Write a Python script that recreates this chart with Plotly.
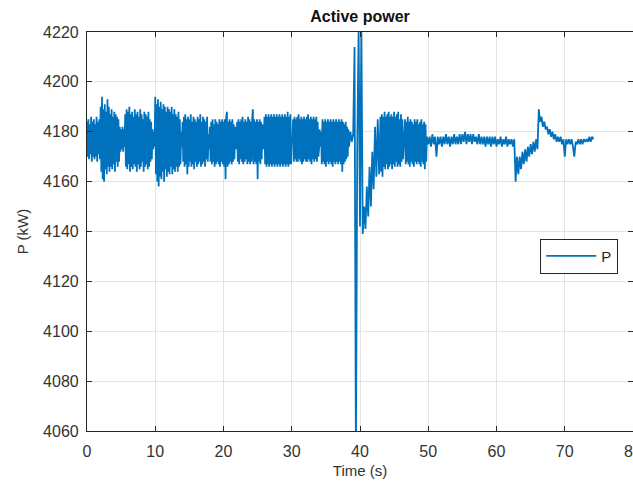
import numpy as np
import plotly.graph_objects as go

# ---- active power P (kW) ----
# oscillating part, sampled every 0.1 s from t = 0 s
dt_a, start_a = 0.1, 0.0
noisy_a = (
    [4184, 4170, 4185, 4169, 4183, 4171, 4186, 4168, 4184, 4170, 4185, 4169, 4183, 4170, 4186, 4168, 4184, 4171, 4185, 4169]
    + [4190, 4164, 4194, 4161, 4189, 4160, 4191, 4165, 4188, 4163, 4193, 4166, 4190, 4164, 4187, 4166, 4189, 4165, 4186, 4167,
       4188, 4164, 4187, 4168, 4186, 4166, 4185, 4168]
    + [4182, 4172, 4181, 4173, 4182, 4172, 4181, 4174]
    + [4187, 4166, 4189, 4165, 4188, 4167, 4190, 4164, 4187, 4166, 4188, 4165, 4186, 4167, 4189, 4166, 4187, 4164, 4188, 4167,
       4186, 4165, 4189, 4166, 4187, 4168, 4185, 4164, 4188, 4166, 4187, 4167, 4186, 4165, 4188, 4166, 4185, 4168, 4184, 4169]
    + [4181, 4173, 4180, 4174]
    + [4194, 4163, 4191, 4160, 4193, 4158, 4190, 4162, 4192, 4161, 4189, 4164, 4191, 4160, 4190, 4165, 4188, 4162, 4190, 4164,
       4189, 4163, 4188, 4166, 4190, 4163, 4187, 4165, 4189, 4164, 4187, 4166, 4186, 4164, 4188, 4166, 4185, 4167]
    + [4180, 4174]
    + [4184, 4168, 4186, 4166, 4187, 4167, 4185, 4163, 4186, 4166, 4185, 4168, 4187, 4166, 4184, 4167, 4186, 4165, 4185, 4168,
       4184, 4166, 4186, 4167, 4185, 4168, 4187, 4166, 4184, 4167, 4186, 4168, 4185, 4166, 4184, 4169, 4186, 4168]
    + [4179, 4173]
    + [4182, 4168, 4184, 4167, 4185, 4168, 4183, 4166, 4185, 4167, 4184, 4168, 4183, 4167, 4185, 4166, 4184, 4168, 4185, 4167,
       4184, 4166, 4185, 4161, 4186, 4188, 4166, 4184, 4167, 4185, 4168, 4184, 4167, 4185, 4168, 4183, 4169, 4182]
    + [4180, 4173]
    + [4184, 4168, 4185, 4167, 4184, 4169, 4185, 4168, 4186, 4167, 4184, 4168, 4185, 4169, 4184, 4167, 4186, 4168, 4185, 4167,
       4184, 4168, 4185, 4189, 4167, 4185, 4168, 4184, 4167, 4185, 4161, 4184, 4168, 4185, 4167, 4184, 4169, 4183]
    + [4180, 4173]
    + [4186, 4167, 4187, 4166, 4186, 4167, 4187, 4166, 4186, 4167, 4187, 4166, 4186, 4167, 4187, 4166, 4186, 4167, 4187, 4166,
       4186, 4167, 4187, 4166, 4186, 4167, 4187, 4166, 4186, 4167, 4187, 4166, 4186, 4167, 4188, 4166, 4186, 4167, 4187, 4167]
    + [4178, 4176]
    + [4185, 4168, 4186, 4169, 4185, 4168, 4186, 4168, 4187, 4169, 4185, 4168, 4186, 4167, 4185, 4168, 4186, 4169, 4185, 4168,
       4186, 4168, 4187, 4169, 4185, 4168, 4186, 4167, 4185, 4169, 4186, 4168, 4185, 4169, 4186, 4168, 4184, 4170]
    + [4173, 4181, 4174, 4180]
    + [4167, 4185, 4168, 4184, 4167, 4185, 4166, 4184, 4168, 4185, 4167, 4184, 4168, 4185, 4167, 4184, 4166, 4185, 4168, 4184,
       4167, 4185, 4168, 4184, 4167, 4185, 4168, 4184, 4167, 4185, 4164, 4184, 4167, 4183, 4168, 4184, 4169, 4182, 4170, 4181]
)

# disturbance around t = 39-40 s, sampled every 0.2 s
dt_spike, start_spike = 0.2, 38.4
spike = [4174, 4180, 4176, 4179, 4214, 4050, 4175, 4221, 4142, 4221, 4139, 4150,
         4141, 4158, 4146, 4166, 4150, 4172, 4157, 4182, 4162, 4185, 4163]

# second oscillating part, every 0.1 s
dt_b, start_b = 0.1, 43.0
noisy_b = (
    [4186, 4164, 4187, 4162, 4186, 4166, 4188, 4165, 4186, 4167, 4187, 4165, 4188, 4166, 4186, 4167, 4187, 4165, 4186, 4167,
     4188, 4166, 4186, 4168, 4187, 4166, 4188, 4167, 4185, 4166, 4187, 4168, 4185, 4169]
    + [4173, 4180]
    + [4185, 4167, 4184, 4168, 4186, 4167, 4184, 4166, 4185, 4168, 4184, 4167, 4183, 4166, 4185, 4168, 4184, 4167, 4185, 4168,
       4183, 4167, 4184, 4166, 4185, 4168, 4183, 4167, 4184, 4165, 4183, 4168]
)

# calm part, every 0.2 s
dt_calm, start_calm = 0.2, 49.8
calm = [4178,
        4175, 4178, 4174, 4179, 4175, 4178, 4170, 4178, 4175, 4178, 4174, 4178, 4175, 4179, 4175, 4178,
        4174, 4178, 4175, 4179, 4175, 4178, 4175, 4179, 4175, 4179, 4176, 4180, 4175, 4179, 4176, 4179,
        4175, 4179, 4176, 4178, 4175, 4179, 4175, 4178, 4175, 4178, 4174, 4178, 4175, 4178, 4174, 4178,
        4175, 4178, 4174, 4177, 4175, 4178, 4174, 4177, 4175, 4178, 4174, 4177, 4175, 4177, 4174, 4177]

# dip, jump and settling, every 0.2 s
dt_tail, start_tail = 0.2, 62.8
tail = [4160, 4170, 4163, 4170, 4165, 4172, 4167, 4173, 4168, 4174, 4170, 4175, 4171, 4176, 4172, 4177,
        4173, 4189, 4184, 4186, 4182, 4184, 4181, 4182, 4179, 4181, 4178, 4180, 4177, 4179, 4176, 4178,
        4176, 4178, 4175, 4177, 4170, 4177, 4175, 4177, 4175, 4177, 4174, 4170, 4176, 4175, 4177, 4175,
        4177, 4175, 4177, 4176, 4177, 4176, 4178, 4176, 4178, 4177]

x_ticks = [0, 10, 20, 30, 40, 50, 60, 70, 80]
y_ticks = [4060, 4080, 4100, 4120, 4140, 4160, 4180, 4200, 4220]

segments = [(start_a, dt_a, noisy_a), (start_spike, dt_spike, spike), (start_b, dt_b, noisy_b),
            (start_calm, dt_calm, calm), (start_tail, dt_tail, tail)]
t_all, p_all = [], []
for t0, dt, vals in segments:
    t_all.extend(np.round(t0 + dt * np.arange(len(vals)), 3))
    p_all.extend(vals)

BLUE = "#0072BD"
AX = "#262626"
FONT = "Liberation Sans, Arial, sans-serif"

fig = go.Figure()
fig.add_trace(go.Scatter(x=t_all, y=p_all, mode="lines", name="P",
                         line=dict(color=BLUE, width=1.8)))

fig.update_layout(
    width=633, height=484,
    margin=dict(l=87, r=0, t=32, b=53, autoexpand=False),
    paper_bgcolor="white", plot_bgcolor="white",
    font=dict(family=FONT, color=AX, size=15),
    title=dict(text="<b>Active power</b>", x=0.5, xref="paper", xanchor="center",
               y=1 - 16 / 484, yref="container", yanchor="middle",
               font=dict(size=16, color="#111111", family=FONT)),
    showlegend=True,
    legend=dict(x=0.973, xanchor="right", y=0.482, yanchor="top",
                bgcolor="white", bordercolor=AX, borderwidth=1,
                font=dict(size=15, color=AX, family=FONT),
                itemwidth=50, tracegroupgap=0),
)
fig.update_xaxes(
    range=[0, 80], tickvals=x_ticks, ticktext=[str(v) for v in x_ticks],
    showgrid=True, gridcolor="#e3e3e3", gridwidth=1, zeroline=False,
    showline=True, linecolor=AX, linewidth=1.2, mirror="ticks",
    ticks="inside", ticklen=5, tickcolor=AX, tickwidth=1,
    tickfont=dict(size=16, color="#333333"), ticklabelstandoff=6,
    ticklabeloverflow="allow",
    title=dict(text="Time (s)", font=dict(size=15, color="#333333"), standoff=6),
    automargin=False,
)
fig.update_yaxes(
    range=[4060, 4220], tickvals=y_ticks, ticktext=[str(v) for v in y_ticks],
    showgrid=True, gridcolor="#e3e3e3", gridwidth=1, zeroline=False,
    showline=True, linecolor=AX, linewidth=1.2, mirror="ticks",
    ticks="inside", ticklen=5, tickcolor=AX, tickwidth=1,
    tickfont=dict(size=16, color="#333333"), ticklabelstandoff=4,
    title=dict(text="P (kW)", font=dict(size=15, color="#333333"), standoff=10),
    automargin=False,
)

fig.write_html("out.html")
